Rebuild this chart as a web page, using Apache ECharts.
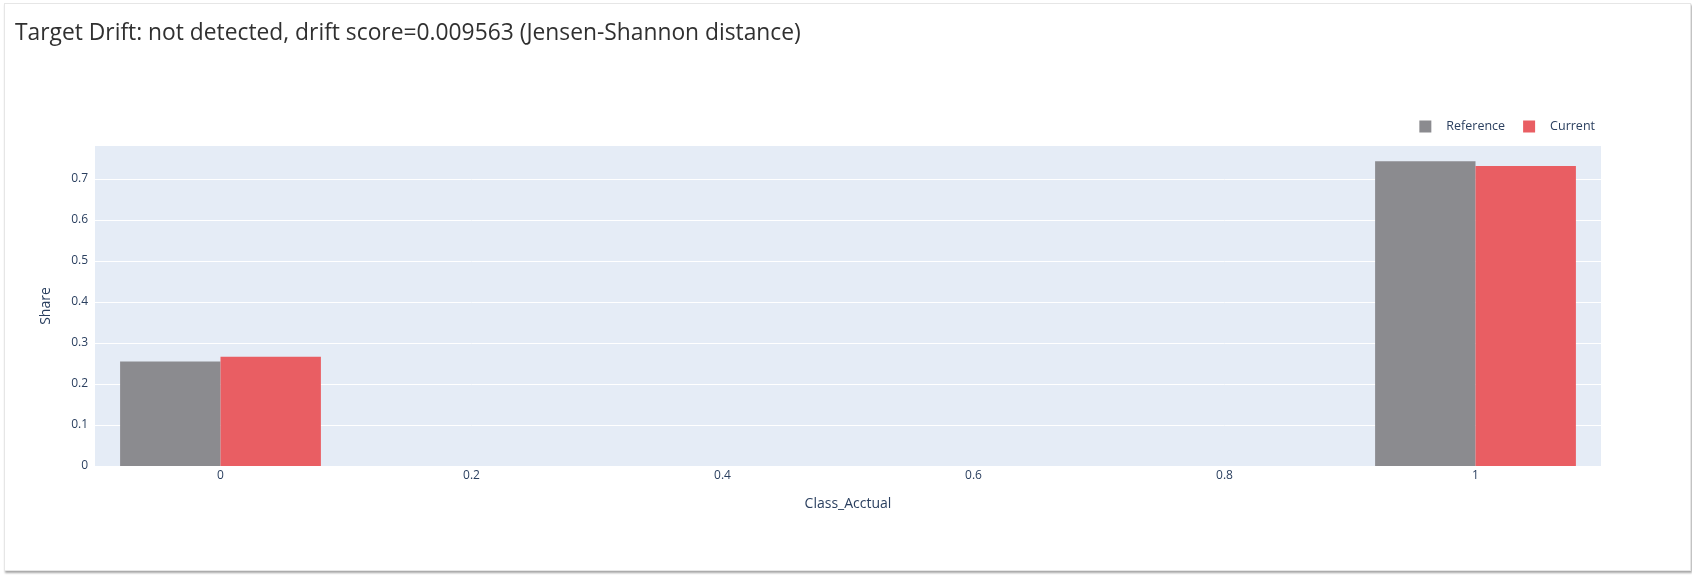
<!DOCTYPE html>
<html>
<head>
<meta charset="utf-8">
<script src="https://cdn.jsdelivr.net/npm/echarts@6/dist/echarts.min.js"></script>
<style>
  html, body { margin: 0; padding: 0; background: #ffffff; }
  #wrap { position: relative; width: 1692px; height: 579px; overflow: hidden; }
  #card { position: absolute; left: 4px; top: 3px; width: 1685px; height: 566px;
          border: 1px solid #e6e6e6; box-shadow: 1px 2px 2px rgba(0,0,0,0.35); background: #fff; }
  #chart { position: absolute; left: 0; top: 0; width: 1692px; height: 579px; }
</style>
</head>
<body>
<div id="wrap">
  <div id="card"></div>
  <div id="chart"></div>
</div>
<script>
// ---- data ----
const titleText = 'Target Drift: not detected, drift score=0.009563 (Jensen-Shannon distance)';
const categories = [0, 1];
const referenceShare = [0.255, 0.743];
const currentShare = [0.266, 0.731];
const xTickValues = [0, 0.2, 0.4, 0.6, 0.8, 1];
const seriesNames = ['Reference', 'Current'];
const xAxisTitle = 'Class_Acctual';
const yAxisTitle = 'Share';

// ---- styles ----
const FONT = "'Open Sans', 'Noto Sans', sans-serif";
const TEXT = '#2a3f5f';
const GRAY = '#8b8b8f';
const RED = '#e95e63';
const HALF = 0.08; // bar width in x units

function barSeries(name, values, color, side) {
  return {
    name: name,
    type: 'custom',
    itemStyle: { color: color },
    encode: { x: 0, y: 1 },
    data: categories.map((c, i) => [c, values[i]]),
    renderItem: function (params, api) {
      const x = api.value(0), v = api.value(1);
      const x0 = side < 0 ? x - HALF : x;
      const x1 = side < 0 ? x : x + HALF;
      const p0 = api.coord([x0, v]);
      const p1 = api.coord([x1, 0]);
      return {
        type: 'rect',
        shape: { x: p0[0], y: p0[1], width: p1[0] - p0[0], height: p1[1] - p0[1] },
        style: { fill: color }
      };
    }
  };
}

const chart = echarts.init(document.getElementById('chart'), null, { renderer: 'canvas' });
chart.setOption({
  animation: false,
  backgroundColor: 'transparent',
  textStyle: { fontFamily: FONT },
  title: {
    text: titleText,
    left: 10,
    top: 17,
    textStyle: { fontFamily: FONT, fontSize: 22.8, fontWeight: 'normal', color: '#303030' }
  },
  legend: {
    right: 92,
    top: 115,
    icon: 'rect',
    itemWidth: 12,
    itemHeight: 12,
    itemGap: 18,
    data: [
      { name: seriesNames[0], itemStyle: { color: GRAY } },
      { name: seriesNames[1], itemStyle: { color: RED } }
    ],
    textStyle: { fontFamily: FONT, fontSize: 12.5, color: TEXT, padding: [0, 0, 0, 10] }
  },
  grid: {
    left: 95, right: 91, top: 146, bottom: 113,
    show: true, backgroundColor: '#E5ECF6', borderWidth: 0
  },
  xAxis: {
    type: 'value',
    min: -0.1,
    max: 1.1,
    name: xAxisTitle,
    nameLocation: 'middle',
    nameGap: 31,
    nameTextStyle: { fontFamily: FONT, fontSize: 14, color: TEXT },
    axisLine: { show: false },
    axisTick: { show: false },
    splitLine: { show: false },
    axisLabel: {
      customValues: xTickValues,
      margin: 4,
      fontFamily: FONT, fontSize: 12, color: TEXT,
      formatter: v => (v === 0 || v === 1) ? String(v) : v.toFixed(1)
    }
  },
  yAxis: {
    type: 'value',
    min: 0,
    max: 0.78,
    interval: 0.1,
    name: yAxisTitle,
    nameLocation: 'middle',
    nameGap: 42,
    nameTextStyle: { fontFamily: FONT, fontSize: 14, color: TEXT },
    axisLine: { show: false },
    axisTick: { show: false },
    splitLine: { show: true, showMaxLine: false, lineStyle: { color: '#ffffff', width: 1 } },
    axisLabel: {
      margin: 7,
      fontFamily: FONT, fontSize: 12, color: TEXT,
      showMaxLabel: false,
      formatter: v => {
        const r = Math.round(v * 10) / 10;
        if (Math.abs(r - v) > 1e-6) return '';
        return r === 0 ? '0' : r.toFixed(1);
      }
    }
  },
  series: [
    barSeries(seriesNames[0], referenceShare, GRAY, -1),
    barSeries(seriesNames[1], currentShare, RED, 1)
  ]
});
</script>
</body>
</html>
